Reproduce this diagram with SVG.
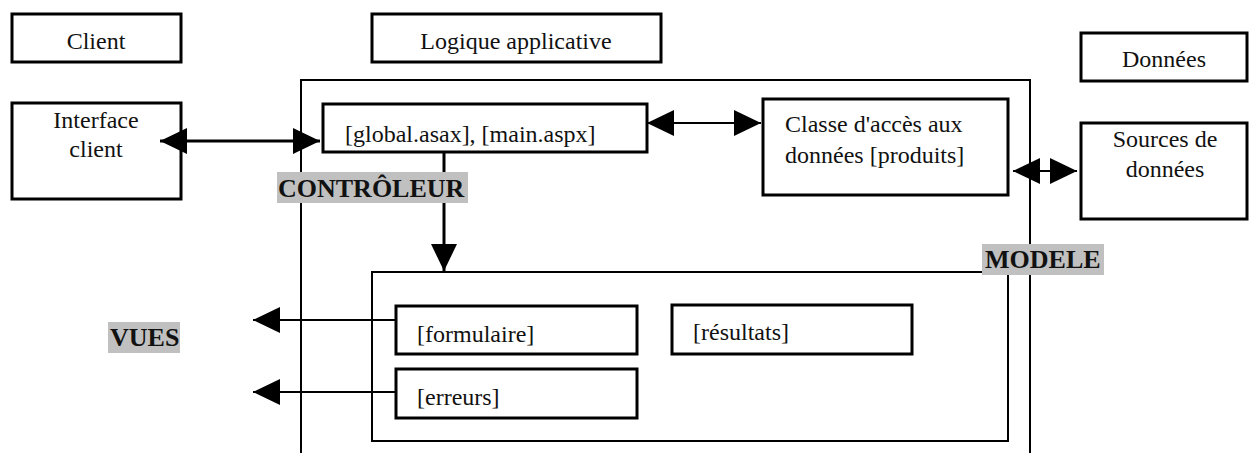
<svg xmlns="http://www.w3.org/2000/svg" width="1250" height="453" viewBox="0 0 1250 453" font-family="Liberation Serif, Times New Roman, serif">
<style>
  .box { fill: #fff; stroke: #000; stroke-width: 3; }
  .frame { fill: none; stroke: #000; stroke-width: 2; }
  .t { font-size: 24px; fill: #111; }
  .c { text-anchor: middle; }
  .lbl { font-size: 26px; font-weight: bold; fill: #111; }
  .lblbg { fill: #c0c0c0; }
  .conn { fill: none; stroke: #000; }
</style>
<defs>
  <marker id="ah" markerUnits="userSpaceOnUse" markerWidth="27" markerHeight="26" refX="27" refY="13" orient="auto-start-reverse" viewBox="0 0 27 26">
    <path d="M0,0 L27,13 L0,26 Z" fill="#000"/>
  </marker>
</defs>
<rect width="1250" height="453" fill="#fff"/>

<g id="frame-logique">
  <path class="frame" d="M301,453 V80 H1030 V453"/>
</g>
<g id="vues-container">
  <rect class="frame" x="372" y="272" width="636" height="169"/>
</g>

<g id="client-header"><rect class="box" x="12" y="14" width="169" height="48"/><text class="t c" x="96" y="49" font-family="Liberation Serif">Client</text></g>
<g id="logique-header"><rect class="box" x="372" y="14" width="289" height="48"/><text class="t c" x="516" y="49" font-family="Liberation Serif">Logique applicative</text></g>
<g id="donnees-header"><rect class="box" x="1081" y="33" width="166" height="48"/><text class="t c" x="1164" y="67" font-family="Liberation Serif">Données</text></g>

<g id="interface-client"><rect class="box" x="12" y="103" width="169" height="96"/><text class="t c" x="96" y="128" font-family="Liberation Serif">Interface</text><text class="t c" x="96" y="157" font-family="Liberation Serif">client</text></g>
<g id="global"><rect class="box" x="323" y="104" width="324" height="48"/><text class="t" x="345" y="142" font-family="Liberation Serif">[global.asax], [main.aspx]</text></g>
<g id="classe"><rect class="box" x="763" y="99" width="245" height="96"/><text class="t" x="785" y="132" font-family="Liberation Serif">Classe d'accès aux</text><text class="t" x="785" y="163" font-family="Liberation Serif">données [produits]</text></g>
<g id="sources"><rect class="box" x="1081" y="123" width="166" height="96"/><text class="t c" x="1165" y="147" font-family="Liberation Serif">Sources de</text><text class="t c" x="1165" y="177" font-family="Liberation Serif">données</text></g>

<g id="formulaire"><rect class="box" x="396" y="306" width="241" height="48"/><text class="t" x="417" y="342" font-family="Liberation Serif">[formulaire]</text></g>
<g id="resultats"><rect class="box" x="672" y="305" width="240" height="49"/><text class="t" x="693" y="340" font-family="Liberation Serif">[résultats]</text></g>
<g id="erreurs"><rect class="box" x="396" y="369" width="241" height="49"/><text class="t" x="417" y="405" font-family="Liberation Serif">[erreurs]</text></g>

<g id="connectors">
  <line class="conn" x1="160" y1="141" x2="320" y2="141" stroke-width="3" marker-start="url(#ah)" marker-end="url(#ah)"/>
  <line class="conn" x1="647" y1="123" x2="761" y2="123" stroke-width="2" marker-start="url(#ah)" marker-end="url(#ah)"/>
  <line class="conn" x1="1013" y1="171" x2="1077" y2="171" stroke-width="2" marker-start="url(#ah)" marker-end="url(#ah)"/>
  <line class="conn" x1="444" y1="152" x2="444" y2="271" stroke-width="3" marker-end="url(#ah)"/>
  <line class="conn" x1="396" y1="320" x2="253" y2="320" stroke-width="2" marker-end="url(#ah)"/>
  <line class="conn" x1="396" y1="392" x2="253" y2="392" stroke-width="2" marker-end="url(#ah)"/>
</g>

<g id="label-controleur"><rect class="lblbg" x="277" y="172" width="191" height="31"/><text class="lbl" x="278" y="197" font-family="Liberation Serif">CONTRÔLEUR</text></g>
<g id="label-modele"><rect class="lblbg" x="982" y="244" width="122" height="31"/><text class="lbl" x="985" y="268" font-family="Liberation Serif">MODELE</text></g>
<g id="label-vues"><rect class="lblbg" x="108" y="322" width="72" height="31"/><text class="lbl" x="110" y="346" font-family="Liberation Serif">VUES</text></g>
</svg>
